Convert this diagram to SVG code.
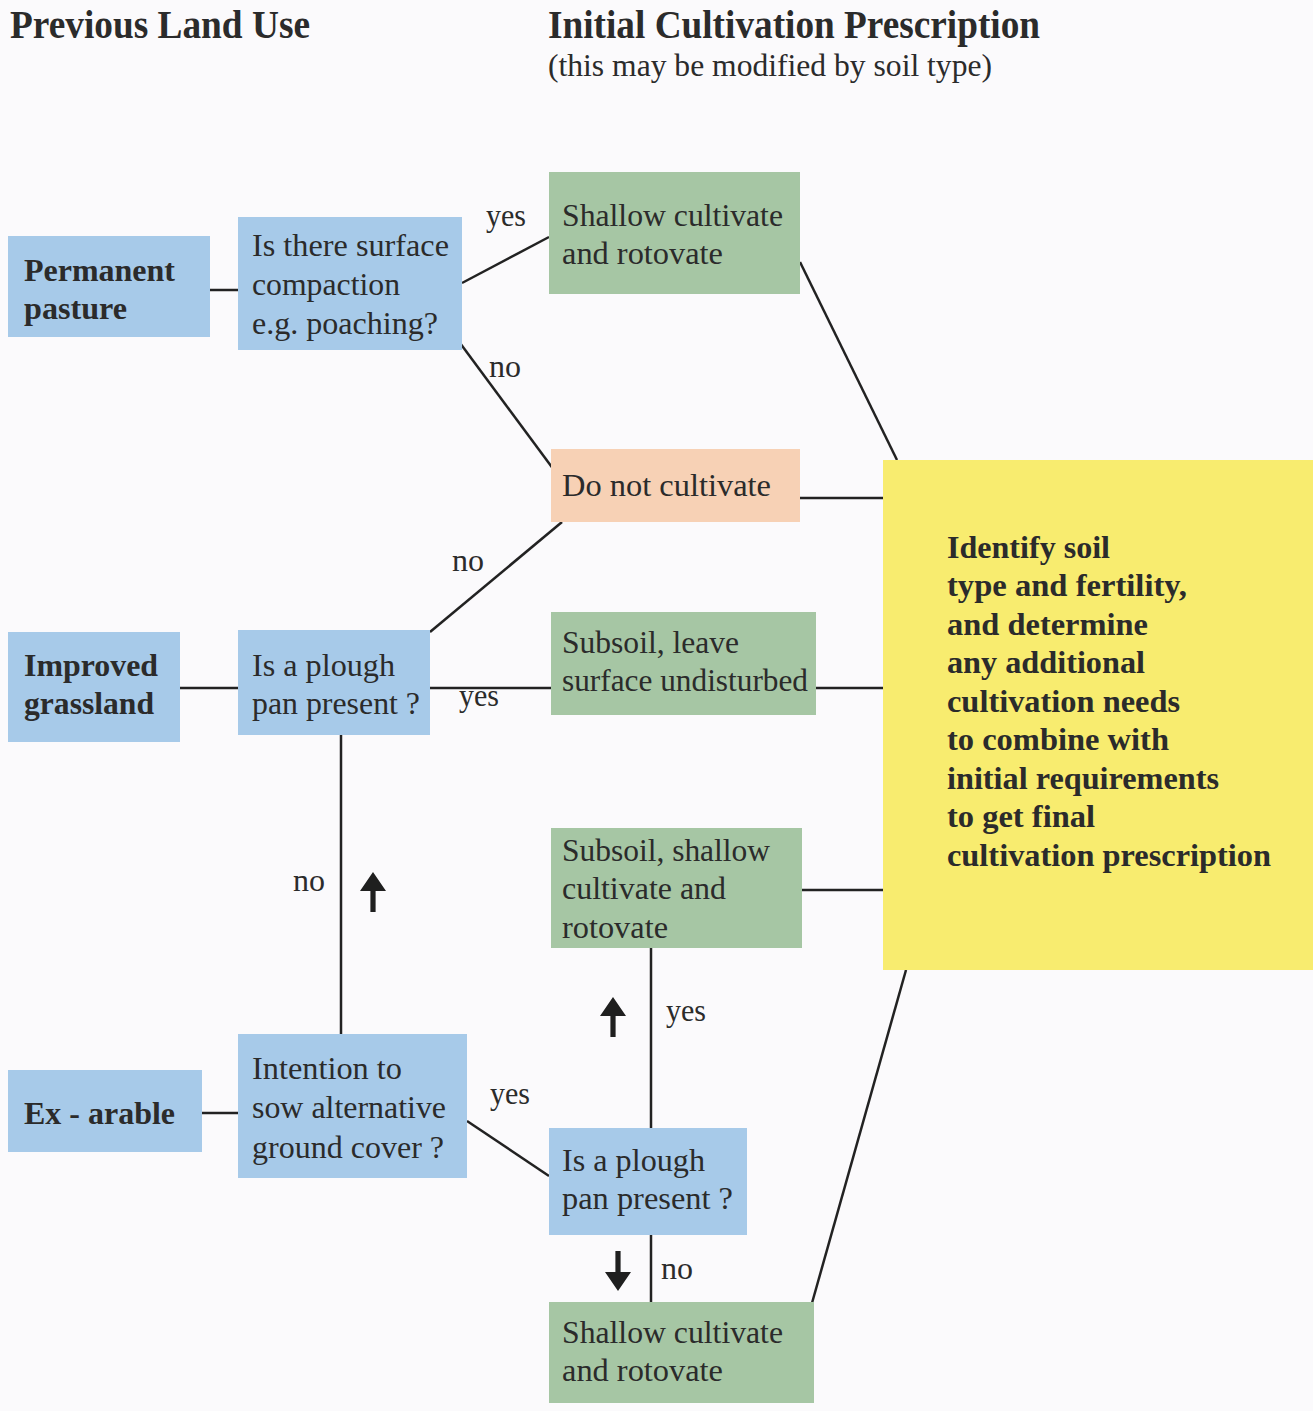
<svg xmlns="http://www.w3.org/2000/svg" width="1313" height="1411" viewBox="0 0 1313 1411">
<defs>
<style>
.bg{fill:#fbfafc}
.blue{fill:#a7cae9}
.green{fill:#a6c6a4}
.peach{fill:#f7d1b5}
.yellow{fill:#f8ec6f}
.t{font-family:"Liberation Serif","Times New Roman",serif;font-size:32px;fill:#2b2b2b}
.b{font-weight:bold}
.h{font-family:"Liberation Serif","Times New Roman",serif;font-weight:bold;font-size:39px;fill:#2b2b2b}
.sub{font-family:"Liberation Serif","Times New Roman",serif;font-size:32px;fill:#2b2b2b}
.lbl{font-family:"Liberation Serif","Times New Roman",serif;font-size:31px;fill:#2b2b2b}
.c{stroke:#222;stroke-width:2.5;fill:none}
.arr{fill:#1f1f1f}
</style>
<path id="uparrow" d="M0,0 L13,19 L2.6,19 L2.6,40 L-2.6,40 L-2.6,19 L-13,19 Z"/>
</defs>
<rect class="bg" x="0" y="0" width="1313" height="1411"/>

<g id="headings">
<text class="h" x="10" y="38" textLength="300" lengthAdjust="spacingAndGlyphs">Previous Land Use</text>
<text class="h" x="548" y="38" textLength="492" lengthAdjust="spacingAndGlyphs">Initial Cultivation Prescription</text>
<text class="sub" x="548" y="76" textLength="444" lengthAdjust="spacingAndGlyphs">(this may be modified by soil type)</text>
</g>

<g id="connectors">
<line class="c" x1="210" y1="290" x2="238" y2="290"/>
<line class="c" x1="462" y1="283" x2="549" y2="237"/>
<line class="c" x1="460" y1="343" x2="554" y2="470"/>
<line class="c" x1="800" y1="262" x2="897" y2="460"/>
<line class="c" x1="800" y1="498" x2="884" y2="498"/>
<line class="c" x1="430" y1="632" x2="562" y2="522"/>
<line class="c" x1="180" y1="688" x2="238" y2="688"/>
<line class="c" x1="430" y1="688" x2="551" y2="688"/>
<line class="c" x1="816" y1="688" x2="884" y2="688"/>
<line class="c" x1="802" y1="890" x2="884" y2="890"/>
<line class="c" x1="341" y1="735" x2="341" y2="1034"/>
<line class="c" x1="651" y1="948" x2="651" y2="1128"/>
<line class="c" x1="202" y1="1113" x2="238" y2="1113"/>
<line class="c" x1="467" y1="1121" x2="549" y2="1176"/>
<line class="c" x1="651" y1="1235" x2="651" y2="1302"/>
<line class="c" x1="906" y1="970" x2="812" y2="1303"/>
<use href="#uparrow" class="arr" x="373" y="872"/>
<use href="#uparrow" class="arr" x="613" y="997"/>
<use href="#uparrow" class="arr" transform="translate(618,1291) scale(1,-1)"/>
<text class="lbl" x="486" y="226" textLength="40" lengthAdjust="spacingAndGlyphs">yes</text>
<text class="lbl" x="489" y="377" textLength="32" lengthAdjust="spacingAndGlyphs">no</text>
<text class="lbl" x="452" y="571" textLength="32" lengthAdjust="spacingAndGlyphs">no</text>
<text class="lbl" x="459" y="706" textLength="40" lengthAdjust="spacingAndGlyphs">yes</text>
<text class="lbl" x="293" y="891" textLength="32" lengthAdjust="spacingAndGlyphs">no</text>
<text class="lbl" x="666" y="1021" textLength="40" lengthAdjust="spacingAndGlyphs">yes</text>
<text class="lbl" x="490" y="1104" textLength="40" lengthAdjust="spacingAndGlyphs">yes</text>
<text class="lbl" x="661" y="1279" textLength="32" lengthAdjust="spacingAndGlyphs">no</text>
</g>

<g id="permanent-pasture">
<rect class="blue" x="8" y="236" width="202" height="101"/>
<text class="t b" x="24" y="281" textLength="151" lengthAdjust="spacingAndGlyphs">Permanent</text>
<text class="t b" x="24" y="319" textLength="103" lengthAdjust="spacingAndGlyphs">pasture</text>
</g>

<g id="q-compaction">
<rect class="blue" x="238" y="217" width="224" height="133"/>
<text class="t" x="252" y="256" textLength="197" lengthAdjust="spacingAndGlyphs">Is there surface</text>
<text class="t" x="252" y="295" textLength="148" lengthAdjust="spacingAndGlyphs">compaction</text>
<text class="t" x="252" y="334" textLength="186" lengthAdjust="spacingAndGlyphs">e.g. poaching?</text>
</g>

<g id="shallow-top">
<rect class="green" x="549" y="172" width="251" height="122"/>
<text class="t" x="562" y="226" textLength="221" lengthAdjust="spacingAndGlyphs">Shallow cultivate</text>
<text class="t" x="562" y="264" textLength="161" lengthAdjust="spacingAndGlyphs">and rotovate</text>
</g>

<g id="do-not-cultivate">
<rect class="peach" x="551" y="449" width="249" height="73"/>
<text class="t" x="562" y="496" textLength="209" lengthAdjust="spacingAndGlyphs">Do not cultivate</text>
</g>

<g id="improved-grassland">
<rect class="blue" x="8" y="632" width="172" height="110"/>
<text class="t b" x="24" y="676" textLength="134" lengthAdjust="spacingAndGlyphs">Improved</text>
<text class="t b" x="24" y="714" textLength="130" lengthAdjust="spacingAndGlyphs">grassland</text>
</g>

<g id="q-plough-upper">
<rect class="blue" x="238" y="630" width="192" height="105"/>
<text class="t" x="252" y="676" textLength="143" lengthAdjust="spacingAndGlyphs">Is a plough</text>
<text class="t" x="252" y="714" textLength="168" lengthAdjust="spacingAndGlyphs">pan present ?</text>
</g>

<g id="subsoil-leave">
<rect class="green" x="551" y="612" width="265" height="103"/>
<text class="t" x="562" y="653" textLength="177" lengthAdjust="spacingAndGlyphs">Subsoil, leave</text>
<text class="t" x="562" y="691" textLength="246" lengthAdjust="spacingAndGlyphs">surface undisturbed</text>
</g>

<g id="subsoil-shallow">
<rect class="green" x="551" y="828" width="251" height="120"/>
<text class="t" x="562" y="861" textLength="208" lengthAdjust="spacingAndGlyphs">Subsoil, shallow</text>
<text class="t" x="562" y="899" textLength="164" lengthAdjust="spacingAndGlyphs">cultivate and</text>
<text class="t" x="562" y="938" textLength="106" lengthAdjust="spacingAndGlyphs">rotovate</text>
</g>

<g id="final-prescription">
<rect class="yellow" x="883" y="460" width="430" height="510"/>
<text class="t b" x="947" y="558" textLength="163" lengthAdjust="spacingAndGlyphs">Identify soil</text>
<text class="t b" x="947" y="596" textLength="240" lengthAdjust="spacingAndGlyphs">type and fertility,</text>
<text class="t b" x="947" y="635" textLength="201" lengthAdjust="spacingAndGlyphs">and determine</text>
<text class="t b" x="947" y="673" textLength="198" lengthAdjust="spacingAndGlyphs">any additional</text>
<text class="t b" x="947" y="712" textLength="233" lengthAdjust="spacingAndGlyphs">cultivation needs</text>
<text class="t b" x="947" y="750" textLength="222" lengthAdjust="spacingAndGlyphs">to combine with</text>
<text class="t b" x="947" y="789" textLength="272" lengthAdjust="spacingAndGlyphs">initial requirements</text>
<text class="t b" x="947" y="827" textLength="148" lengthAdjust="spacingAndGlyphs">to get final</text>
<text class="t b" x="947" y="866" textLength="324" lengthAdjust="spacingAndGlyphs">cultivation prescription</text>
</g>

<g id="ex-arable">
<rect class="blue" x="8" y="1070" width="194" height="82"/>
<text class="t b" x="24" y="1124" textLength="151" lengthAdjust="spacingAndGlyphs">Ex - arable</text>
</g>

<g id="q-intention">
<rect class="blue" x="238" y="1034" width="229" height="144"/>
<text class="t" x="252" y="1079" textLength="150" lengthAdjust="spacingAndGlyphs">Intention to</text>
<text class="t" x="252" y="1118" textLength="194" lengthAdjust="spacingAndGlyphs">sow alternative</text>
<text class="t" x="252" y="1158" textLength="192" lengthAdjust="spacingAndGlyphs">ground cover ?</text>
</g>

<g id="q-plough-lower">
<rect class="blue" x="549" y="1128" width="198" height="107"/>
<text class="t" x="562" y="1171" textLength="143" lengthAdjust="spacingAndGlyphs">Is a plough</text>
<text class="t" x="562" y="1209" textLength="171" lengthAdjust="spacingAndGlyphs">pan present ?</text>
</g>

<g id="shallow-bottom">
<rect class="green" x="549" y="1302" width="265" height="101"/>
<text class="t" x="562" y="1343" textLength="221" lengthAdjust="spacingAndGlyphs">Shallow cultivate</text>
<text class="t" x="562" y="1381" textLength="161" lengthAdjust="spacingAndGlyphs">and rotovate</text>
</g>
</svg>
